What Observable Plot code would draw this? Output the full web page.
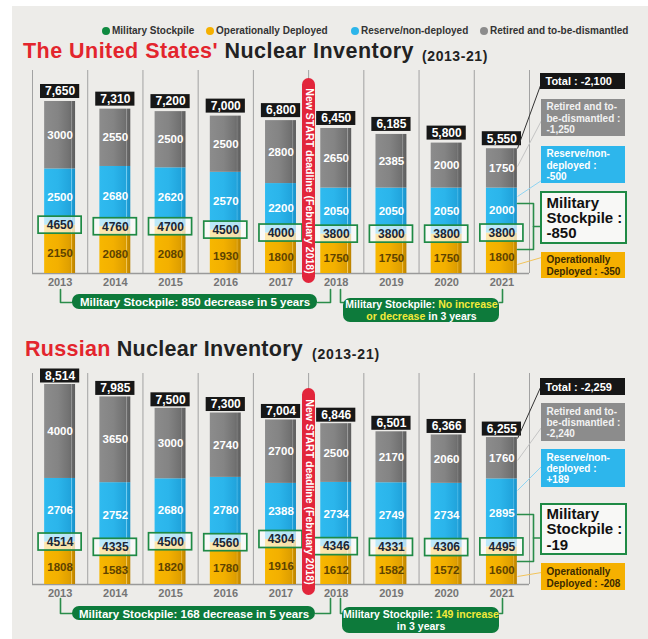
<!DOCTYPE html>
<html><head><meta charset="utf-8">
<script src="https://cdn.jsdelivr.net/npm/d3@7"></script>
<script src="https://cdn.jsdelivr.net/npm/@observablehq/plot@0.6"></script>
<style>
body{margin:0;background:#fff;font-family:"Liberation Sans",Arial,Helvetica,sans-serif;}
#wrap{position:relative;width:648px;height:639px;overflow:hidden;}
#panel{position:absolute;left:12px;top:6px;width:636px;height:633px;background:#edece9;}
.abs{position:absolute;white-space:nowrap;}
.leg{font-size:10px;font-weight:bold;color:#333;top:26px;line-height:10px;}
.dot{display:inline-block;width:8px;height:8px;border-radius:50%;margin-right:2px;vertical-align:-1px;}
.tmain{font-size:21.5px;line-height:21.5px;font-weight:bold;color:#222;}
.tsmall{font-size:14px;line-height:14px;font-weight:bold;color:#222;}
.red{color:#e3252d;}
svg{position:absolute;left:0;}
svg, svg text{font-family:"Liberation Sans",Arial,Helvetica,sans-serif !important;}
</style></head>
<body><div id="wrap"><div id="panel"></div></div>
<script>
// ---------------- DATA ----------------
const years = [2013, 2014, 2015, 2016, 2017, 2018, 2019, 2020, 2021];

const usDeployed  = [2150, 2080, 2080, 1930, 1800, 1750, 1750, 1750, 1800];
const usReserve   = [2500, 2680, 2620, 2570, 2200, 2050, 2050, 2050, 2000];
const usRetired   = [3000, 2550, 2500, 2500, 2800, 2650, 2385, 2000, 1750];
const usStockpile = [4650, 4760, 4700, 4500, 4000, 3800, 3800, 3800, 3800];
const usTotal     = [7650, 7310, 7200, 7000, 6800, 6450, 6185, 5800, 5550];

const ruDeployed  = [1808, 1583, 1820, 1780, 1916, 1612, 1582, 1572, 1600];
const ruReserve   = [2706, 2752, 2680, 2780, 2388, 2734, 2749, 2734, 2895];
const ruRetired   = [4000, 3650, 3000, 2740, 2700, 2500, 2170, 2060, 1760];
const ruStockpile = [4514, 4335, 4500, 4560, 4304, 4346, 4331, 4306, 4495];
const ruTotal     = [8514, 7985, 7500, 7300, 7004, 6846, 6501, 6366, 6255];

const legendItems = ["Military Stockpile", "Operationally Deployed", "Reserve/non-deployed", "Retired and to-be-dismantled"];
const usTitle = ["The United States'", " Nuclear Inventory", "(2013-21)"];
const ruTitle = ["Russian", " Nuclear Inventory", "(2013-21)"];
const deadline = "New START deadline (February 2018)";
const usNotes = ["Total : -2,100", "Retired and to-\nbe-dismantled :\n-1,250", "Reserve/non-\ndeployed :\n-500", "Military\nStockpile :\n-850", "Operationally\nDeployed : -350"];
const ruNotes = ["Total : -2,259", "Retired and to-\nbe-dismantled :\n-2,240", "Reserve/non-\ndeployed :\n+189", "Military\nStockpile :\n-19", "Operationally\nDeployed : -208"];
const usPills = ["Military Stockpile: 850 decrease in 5 years", "Military Stockpile: [No increase]\n[or decrease] in 3 years"];
const ruPills = ["Military Stockpile: 168 decrease in 5 years", "Military Stockpile: [149 increase]\nin 3 years"];

// ---------------- STYLE ----------------
const FONT = "Liberation Sans, Arial, Helvetica, sans-serif";
const C = {green:"#1f8a45", pill:"#0d7a3b", red:"#e2253b", yellow:"#f3ea3a"};
const svgNS = "http://www.w3.org/2000/svg";
const wrap = document.getElementById("wrap");

// legend
const legColors = ["#0f8a40", "#f5b000", "#2cb5ea", "#8c8c8c"];
const legX = [102, 206, 351, 480];
legendItems.forEach((t, i) => {
  const d = document.createElement("div");
  d.className = "abs leg";
  d.style.left = legX[i] + "px";
  d.innerHTML = `<span class="dot" style="background:${legColors[i]}"></span>${t}`;
  wrap.appendChild(d);
});

// titles
function fit(el, target) {
  const w = el.getBoundingClientRect().width;
  const n = el.textContent.length;
  el.style.letterSpacing = ((target - w) / n) + "px";
}
function title(parts, left, top, smallLeft, smallTop, wMain, wSmall) {
  const m = document.createElement("div");
  m.className = "abs tmain";
  m.style.left = left + "px"; m.style.top = top + "px";
  m.innerHTML = `<span class="red">${parts[0]}</span>${parts[1]}`;
  wrap.appendChild(m);
  const s = document.createElement("div");
  s.className = "abs tsmall";
  s.style.left = smallLeft + "px"; s.style.top = smallTop + "px";
  s.textContent = parts[2];
  wrap.appendChild(s);
  fit(m, wMain); fit(s, wSmall);
}
title(usTitle, 23, 40.8, 422, 48.5, 391, 66);
title(ruTitle, 25, 338.8, 312, 346.5, 278, 68);

function addDefs(svg, id) {
  const defs = document.createElementNS(svgNS, "defs");
  const grads = {
    gG: [[0,"#8c8c8c"],[0.45,"#848484"],[0.8,"#727272"],[0.86,"#6c6c6c"],[0.88,"#9c9c9c"],[0.9,"#6a6a6a"],[1,"#5c5c5c"]],
    gB: [[0,"#2fbaef"],[0.45,"#2bb5eb"],[0.8,"#22a6de"],[0.86,"#21a3db"],[0.88,"#7fd2f4"],[0.9,"#20a0d8"],[1,"#1890c8"]],
    gO: [[0,"#f7b700"],[0.45,"#f3b000"],[0.8,"#e0a000"],[0.86,"#d89a00"],[0.88,"#f4cc66"],[0.9,"#d49600"],[1,"#b98000"]]
  };
  for (const [k, stops] of Object.entries(grads)) {
    const g = document.createElementNS(svgNS, "linearGradient");
    g.setAttribute("id", k + id);
    g.setAttribute("x1", "0"); g.setAttribute("x2", "1"); g.setAttribute("y1", "0"); g.setAttribute("y2", "0");
    for (const [o, c] of stops) {
      const s = document.createElementNS(svgNS, "stop");
      s.setAttribute("offset", o); s.setAttribute("stop-color", c);
      g.appendChild(s);
    }
    defs.appendChild(g);
  }
  svg.insertBefore(defs, svg.firstChild);
}

function colorize(svg) {
  const walker = document.createTreeWalker(svg, NodeFilter.SHOW_TEXT);
  const nodes = [];
  while (walker.nextNode()) if (walker.currentNode.nodeValue.includes("[")) nodes.push(walker.currentNode);
  for (const n of nodes) {
    const frag = document.createDocumentFragment();
    for (const p of n.nodeValue.split(/(\[[^\]]*\])/)) {
      if (!p) continue;
      if (p.startsWith("[")) {
        const t = document.createElementNS(svgNS, "tspan");
        t.setAttribute("fill", C.yellow);
        t.textContent = p.slice(1, -1);
        frag.appendChild(t);
      } else frag.appendChild(document.createTextNode(p));
    }
    n.parentNode.replaceChild(frag, n);
  }
}

function makeChart(o) {
  const yMax = d3.max(o.total);
  const xDomain = [years[0] - 0.5, years[years.length - 1] + 0.5];
  const xRange = [32, 529];
  const yRange = [o.base - o.top, o.barTop - o.top];
  const X = d3.scaleLinear(xDomain, xRange);
  const Y = d3.scaleLinear([0, yMax], yRange);
  const k = (o.base - o.barTop) / yMax;
  const xp = v => X.invert(v), yp = v => Y.invert(v - o.top);
  const rows = years.map((year, i) => ({year, dep: o.dep[i], res: o.res[i], ret: o.ret[i], stock: o.stock[i], total: o.total[i]}));
  const hw = 0.28;
  const bold = {fontWeight: "bold", fontFamily: FONT};
  const L = o.layout;

  const marks = [
    Plot.ruleX([...years.map(y => y - 0.5), xDomain[1]], {x: d => d, y1: 0, y2: yp(L.gridTop), stroke: "#a2a2a2", strokeWidth: 1}),
    Plot.ruleY([0], {x1: xDomain[0], x2: xDomain[1], stroke: "#9a9a9a", strokeWidth: 1.5}),
    Plot.rect(rows, {x1: d => d.year - hw, x2: d => d.year + hw, y1: 0, y2: "dep", fill: `url(#gO${o.id})`}),
    Plot.rect(rows, {x1: d => d.year - hw, x2: d => d.year + hw, y1: "dep", y2: d => d.dep + d.res, fill: `url(#gB${o.id})`}),
    Plot.rect(rows, {x1: d => d.year - hw, x2: d => d.year + hw, y1: d => d.dep + d.res, y2: d => d.dep + d.res + d.ret, fill: `url(#gG${o.id})`}),
    Plot.text(rows, {x: "year", y: d => d.stock + d.ret / 2, text: d => String(d.ret), fill: "#fff", fontSize: 11.5, ...bold}),
    Plot.text(rows, {x: "year", y: d => d.dep + d.res / 2, text: d => String(d.res), fill: "#fff", fontSize: 11.5, ...bold}),
    Plot.text(rows, {x: "year", y: d => (d.dep - 8.5 / k) / 2, text: d => String(d.dep), fill: "#5e4300", fontSize: 11.5, ...bold}),
    Plot.rect(rows, {x1: d => d.year - 0.39, x2: d => d.year + 0.39, y1: d => d.dep - 8.5 / k, y2: d => d.dep + 8.5 / k, fill: "#fff", fillOpacity: 0.68, stroke: C.green, strokeWidth: 1.7}),
    Plot.text(rows, {x: "year", y: "dep", text: d => String(d.stock), fill: "#1b2636", fontSize: 12, ...bold}),
    Plot.rect(rows, {x1: d => d.year - 0.355, x2: d => d.year + 0.355, y1: d => d.total + o.gap / k, y2: d => d.total + (o.gap + 14) / k, fill: "#171717"}),
    Plot.text(rows, {x: "year", y: d => d.total + (o.gap + 7) / k, text: d => d3.format(",")(d.total), fill: "#fff", fontSize: 12, ...bold}),
    Plot.text(rows, {x: "year", y: yp(L.yearY), text: d => String(d.year), fill: "#757575", fontSize: 11, ...bold}),
    // New START deadline pill
    Plot.rect([deadline], {x1: xp(302), x2: xp(315), y1: yp(L.pill[1]), y2: yp(L.pill[0]), fill: C.red, rx: 6.5}),
    Plot.text([deadline], {x: xp(308.5), y: yp((L.pill[0] + L.pill[1]) / 2), text: d => d, rotate: 90, fill: "#fff", fontSize: 10.5, ...bold})
  ];

  // leader lines
  const leadColors = ["#333", "#c4c4c4", "#8fd4f2", "#f2c45a"];
  L.leaders.forEach((l, i) => {
    marks.push(Plot.link([l], {x1: xp(l[0]), y1: yp(l[1]), x2: xp(l[2]), y2: yp(l[3]), stroke: leadColors[i], strokeWidth: 1}));
  });

  // brackets
  const brPts = [];
  L.brackets.forEach((b, g) => b.forEach(([x, y]) => brPts.push({g, x: xp(x), y: yp(y)})));
  marks.push(Plot.line(brPts, {x: "x", y: "y", z: "g", stroke: "#2a8c4a", strokeWidth: 1.6, curve: "linear"}));

  // right-hand notes
  const ns = [
    {fill: "#161616", color: "#fff", size: 11, lh: 1.1},
    {fill: "#8c8c8c", color: "#f2f2f2", size: 10, lh: 1.12},
    {fill: "#2db6ec", color: "#fff", size: 10, lh: 1.12},
    {fill: "#f8f8f6", stroke: C.green, color: "#111", size: 15, lh: 1.03},
    {fill: "#f5b000", color: "#3a2a00", size: 10, lh: 1.2}
  ];
  o.notes.forEach((t, i) => {
    const b = L.notes[i], s = ns[i];
    marks.push(Plot.rect([t], {x1: xp(b[0]), x2: xp(b[1]), y1: yp(b[3]), y2: yp(b[2]), fill: s.fill, stroke: s.stroke || "none", strokeWidth: 2}));
    marks.push(Plot.text([t], {x: xp(b[0] + 5), y: yp((b[2] + b[3]) / 2), text: d => d, textAnchor: "start", lineHeight: s.lh, fill: s.color, fontSize: s.size, ...bold}));
  });

  // bottom pills
  o.pills.forEach((t, i) => {
    const b = L.pills[i];
    marks.push(Plot.rect([t], {x1: xp(b[0]), x2: xp(b[1]), y1: yp(b[3]), y2: yp(b[2]), fill: C.pill, rx: 7}));
    marks.push(Plot.text([t], {x: xp((b[0] + b[1]) / 2), y: yp((b[2] + b[3]) / 2), text: d => d, fill: "#fff", fontSize: i === 0 ? 11.5 : 10.5, lineHeight: 1.1, ...bold}));
  });

  const svg = Plot.plot({
    width: 648, height: o.height, margin: 0,
    x: {domain: xDomain, range: xRange, axis: null},
    y: {domain: [0, yMax], range: yRange, axis: null},
    style: {background: "transparent", overflow: "visible"},
    marks
  });
  svg.style.top = o.top + "px";
  addDefs(svg, o.id);
  colorize(svg);
  wrap.appendChild(svg);
}

makeChart({
  id: "us", top: 66, height: 262, base: 273, barTop: 101, gap: 3,
  dep: usDeployed, res: usReserve, ret: usRetired, stock: usStockpile, total: usTotal,
  notes: usNotes, pills: usPills,
  layout: {
    gridTop: 70, yearY: 282, pill: [78, 283],
    notes: [[540, 625, 73, 89], [541, 625, 99, 136], [541, 625, 146, 183], [541, 626, 192, 243], [541, 625, 252, 278]],
    leaders: [[540, 85, 517, 148], [541, 120, 517, 166], [541, 180, 517, 196], [541, 257, 517, 264]],
    brackets: [
      [[517, 203], [533, 203], [533, 249], [517, 249]], [[533, 226], [541, 226]],
      [[60, 289], [60, 302], [72, 302]], [[317, 302], [330, 302], [330, 289]],
      [[340, 289], [340, 302], [343, 302]], [[499, 302], [502, 302], [502, 289]]
    ],
    pills: [[72, 317, 294, 309], [343, 499, 298, 322]]
  }
});

makeChart({
  id: "ru", top: 360, height: 279, base: 584, barTop: 384, gap: 1.5,
  dep: ruDeployed, res: ruReserve, ret: ruRetired, stock: ruStockpile, total: ruTotal,
  notes: ruNotes, pills: ruPills,
  layout: {
    gridTop: 373, yearY: 593, pill: [388, 595],
    notes: [[540, 625, 378, 395], [541, 625, 403, 441], [541, 625, 449, 487], [541, 626, 504, 554], [541, 625, 563, 590]],
    leaders: [[540, 387, 517, 438], [541, 427, 517, 460], [541, 466, 517, 490], [541, 572, 517, 576]],
    brackets: [
      [[517, 514], [533, 514], [533, 561], [517, 561]], [[533, 537.5], [541, 537.5]],
      [[60, 598], [60, 613], [72, 613]], [[315, 613], [330, 613], [330, 598]],
      [[340, 598], [340, 613], [342, 613]], [[499, 613], [502, 613], [502, 598]]
    ],
    pills: [[72, 315, 606, 620], [342, 499, 607, 633]]
  }
});
</script>
</body></html>
